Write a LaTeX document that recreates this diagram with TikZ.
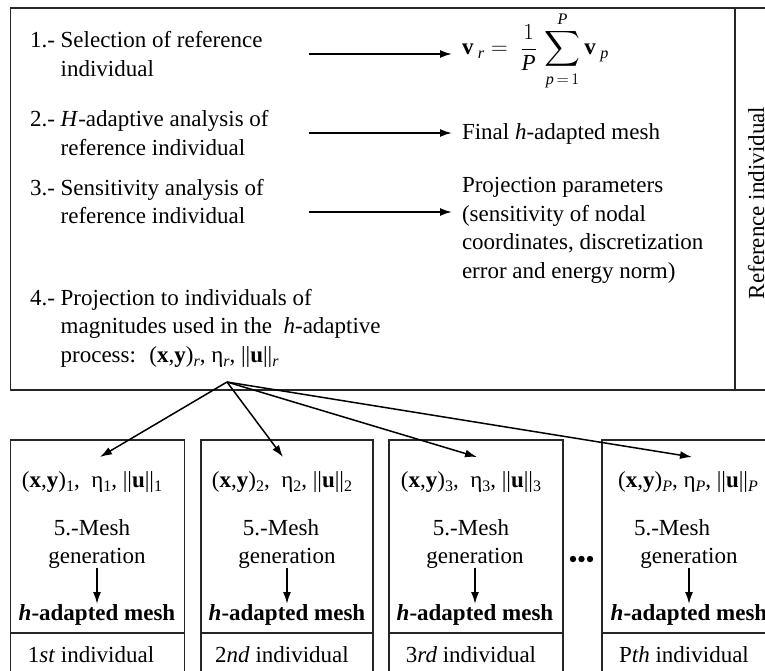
\RequirePackage{fix-cm}
\documentclass[tikz,border=0pt]{standalone}
\usepackage{amsmath}
\usepackage{fontspec}
\setmainfont{Liberation Serif}
\usetikzlibrary{arrows.meta}
\newcommand{\sbx}[1]{\raisebox{-4.5pt}{\fontsize{16}{16}\selectfont #1}}
\begin{document}
\begin{tikzpicture}[x=1pt,y=-1pt,
  every node/.style={font=\fontsize{23}{28.5}\selectfont, inner sep=0pt, outer sep=0pt},
  frame/.style={draw=black!85, line width=1.3pt},
  arr/.style={line width=1.8pt, -{Latex[length=12pt,width=8pt]}},
  fan/.style={line width=1.5pt, -{Latex[length=12pt,width=8pt]}},
  lbl/.style={anchor=base west},
  cbox/.style={anchor=base},
  bbox/.style={frame, anchor=north west, minimum height=260pt},
]
\useasboundingbox (0,0) rectangle (765,671);
% top box
\node[frame, anchor=north west, minimum width=780pt, minimum height=382pt] (top) at (10.5,8) {};
\draw[frame] (735,8) -- (735,390);
\node[rotate=90, anchor=base] (ref) at (764,203) {Reference individual};
% items
\node[lbl] (i1) at (30,48) {1.-\ \parbox[t]{300pt}{Selection of reference\\individual}};
\node[lbl] (i2) at (30,127) {2.-\ \parbox[t]{300pt}{\textit{H}-adaptive analysis of\\reference individual}};
\node[lbl] (i3) at (30,195) {3.-\ \parbox[t]{300pt}{Sensitivity analysis of\\reference individual}};
\node[lbl] (i4) at (30,305) {4.-\ \parbox[t]{400pt}{Projection to individuals of\\magnitudes used in the \ \textit{h}-adaptive\\process: \ (\textbf{x},\textbf{y})\sbx{\textit{r}}, η\sbx{\textit{r}}, ||\textbf{u}||\sbx{\textit{r}}}};
% results
\node[lbl] (f1) at (462,55) {$\displaystyle \mathbf{v}_{\;\mathit{r}} = \; \frac{1}{\mathit{P}}\,\sum_{\mathit{p}\,=\,1}^{\mathit{P}}\mathbf{v}_{\;\mathit{p}}$};
\node[lbl] (f2) at (462,140) {Final \textit{h}-adapted mesh};
\node[lbl] (f3) at (462,193) {\parbox[t]{300pt}{Projection parameters\\(sensitivity of nodal\\coordinates, discretization\\error and energy norm)}};
% arrows in top box
\coordinate (a1s) at (309,54);  \coordinate (a1e) at (452,54);
\coordinate (a2s) at (309,133); \coordinate (a2e) at (452,133);
\coordinate (a3s) at (309,212); \coordinate (a3e) at (452,212);
\draw[arr] (a1s) -- (a1e);
\draw[arr] (a2s) -- (a2e);
\draw[arr] (a3s) -- (a3e);
% bottom boxes
\node[bbox, minimum width=174pt] (b1) at (10.7,440) {};
\node[bbox, minimum width=172pt] (b2) at (201,440) {};
\node[bbox, minimum width=174pt] (b3) at (389,440) {};
\node[bbox, minimum width=174pt] (b4) at (602,440) {};
\draw[frame] (10.7,633) -- (184.7,633);
\draw[frame] (201,633) -- (373,633);
\draw[frame] (389,633) -- (563,633);
\draw[frame] (602,633) -- (776,633);
% box 1
\node[cbox] (p1) at (92,487) {(\textbf{x},\textbf{y})\sbx{1}, \ η\sbx{1}, ||\textbf{u}||\sbx{1}};
\node[cbox] (m1) at (92,535) {5.-Mesh};
\node[cbox] (g1) at (97,563) {generation};
\node[cbox] (h1) at (97,620) {\textbf{\textit{h}-adapted mesh}};
\node[cbox] (n1) at (91,662) {1\textit{st} individual};
% box 2
\node[cbox] (p2) at (282,487) {(\textbf{x},\textbf{y})\sbx{2}, \ η\sbx{2}, ||\textbf{u}||\sbx{2}};
\node[cbox] (m2) at (281,535) {5.-Mesh};
\node[cbox] (g2) at (287,563) {generation};
\node[cbox] (h2) at (287,620) {\textbf{\textit{h}-adapted mesh}};
\node[cbox] (n2) at (282,662) {2\textit{nd} individual};
% box 3
\node[cbox] (p3) at (471,487) {(\textbf{x},\textbf{y})\sbx{3}, \ η\sbx{3}, ||\textbf{u}||\sbx{3}};
\node[cbox] (m3) at (471,535) {5.-Mesh};
\node[cbox] (g3) at (475,563) {generation};
\node[cbox] (h3) at (475,620) {\textbf{\textit{h}-adapted mesh}};
\node[cbox] (n3) at (471,662) {3\textit{rd} individual};
% box 4
\node[cbox] (p4) at (688,487) {(\textbf{x},\textbf{y})\sbx{\textit{P}}, η\sbx{\textit{P}}, ||\textbf{u}||\sbx{\textit{P}}};
\node[cbox] (m4) at (672,535) {5.-Mesh};
\node[cbox] (g4) at (689,563) {generation};
\node[cbox] (h4) at (689,620) {\textbf{\textit{h}-adapted mesh}};
\node[cbox] (n4) at (684,662) {P\textit{th} individual};
% vertical arrows
\draw[arr] (g1.south) -- (h1.north);
\draw[arr] (g2.south) -- (h2.north);
\draw[arr] (g3.south) -- (h3.north);
\draw[arr] (g4.south) -- (h4.north);
% dots
\fill (573,559) circle (3.2);
\fill (581.5,559) circle (3.2);
\fill (590,559) circle (3.2);
% fan
\coordinate (apex) at (227,382);
\coordinate (t1) at (100,457);
\coordinate (t2) at (283,457);
\coordinate (t3) at (477,457);
\coordinate (t4) at (692,457);
\draw[fan] (apex) -- (t1);
\draw[fan] (apex) -- (t2);
\draw[fan] (apex) -- (t3);
\draw[fan] (apex) -- (t4);
\end{tikzpicture}
\end{document}
